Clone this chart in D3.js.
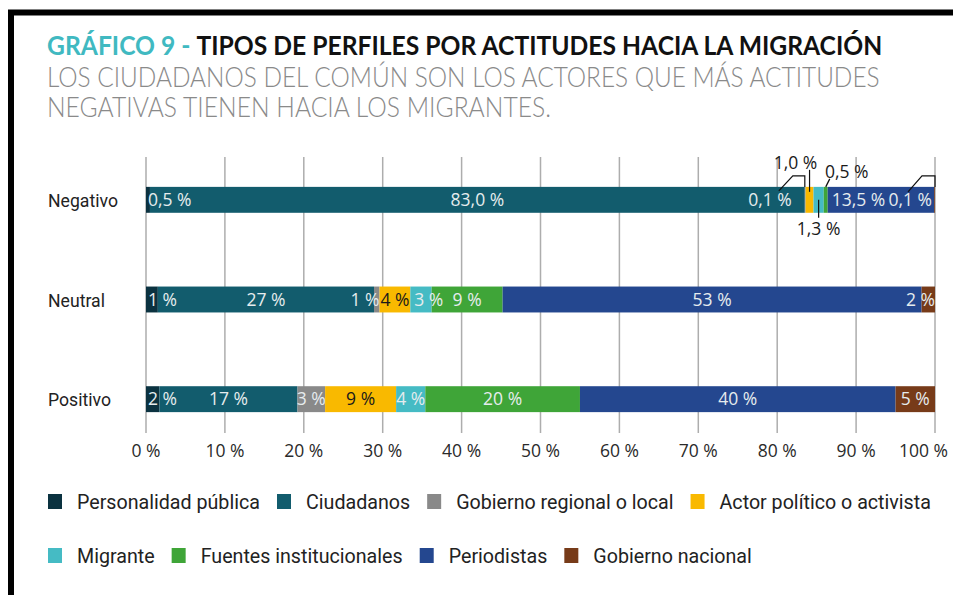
<!DOCTYPE html>
<html>
<head>
<meta charset="utf-8">
<script src="https://cdn.jsdelivr.net/npm/d3@7"></script>
<style>
  body { margin: 0; background: #fff; }
  svg { display: block; }
</style>
</head>
<body>
<svg id="chart" width="953" height="595"></svg>
<script>

// ---- data ----
var categories = ["Negativo", "Neutral", "Positivo"];

var groups = ["Personalidad pública", "Ciudadanos", "Gobierno regional o local",
  "Actor político o activista", "Migrante", "Fuentes institucionales",
  "Periodistas", "Gobierno nacional"];

var groupColors = ["#0b3240", "#125c6d", "#898989", "#f9b900",
  "#45bbc4", "#3fa538", "#24478f", "#773b19"];

var negativo = [0.5, 83.0, 0.1, 1.0, 1.3, 0.5, 13.5, 0.1];
var neutral  = [1.5, 27.4, 0.7, 3.9, 2.7, 9.0, 53.1, 1.7];
var positivo = [1.7, 17.5, 3.5, 9.0, 3.7, 19.6, 40.0, 5.0];

var negativoLabels = ["0,5 %", "83,0 %", "0,1 %", "1,0 %", "1,3 %", "0,5 %", "13,5 %", "0,1 %"];
var neutralLabels  = ["1 %", "27 %", "1 %", "4 %", "3 %", "9 %", "53 %", "2 %"];
var positivoLabels = ["2 %", "17 %", "3 %", "9 %", "4 %", "20 %", "40 %", "5 %"];

var xTicks = [0, 10, 20, 30, 40, 50, 60, 70, 80, 90, 100];
var tickLabels = xTicks.map(function(t) { return t + " %"; });

var titleLead = "GRÁFICO 9 - ";
var titleMain = "TIPOS DE PERFILES POR ACTITUDES HACIA LA MIGRACIÓN";
var subtitle = ["LOS CIUDADANOS DEL COMÚN SON LOS ACTORES QUE MÁS ACTITUDES",
  "NEGATIVAS TIENEN HACIA LOS MIGRANTES."];


var svg = d3.select("#chart");

// squeeze a text (condensed look) to a given width
function fitText(sel, x, y, width) {
  var w = sel.node().getBBox().width;
  sel.attr("transform", "translate(" + x + "," + y + ") scale(" + (width / w) + ",1)");
  return width / w;
}

// ---- frame ----
svg.append("path")
  .attr("d", "M11,595 L11,12.5 L960,12.5")
  .attr("fill", "none")
  .attr("stroke", "#000")
  .attr("stroke-width", 6);

// ---- title ----
var title = svg.append("text")
  .style("font-family", "Lato")
  .style("font-weight", 700)
  .style("font-size", "26px");
title.append("tspan").attr("fill", "#40b9c1").text(titleLead);
title.append("tspan").attr("fill", "#111").text(titleMain);
fitText(title, 47, 55, 835);

subtitle.forEach(function(line, i) {
  var t = svg.append("text")
    .style("font-family", "Lato")
    .style("font-weight", 300)
    .style("font-size", "27px")
    .attr("fill", "#8a8a8a")
    .text(line);
  fitText(t, 47, 87 + i * 30, i == 0 ? 833 : 504);
});

// ---- scales ----
var x = d3.scaleLinear().domain([0, 100]).range([146, 935]);
var y = d3.scaleBand().domain(categories).range([150, 449])
  .paddingInner(0.74).paddingOuter(0.37);

// gridlines
svg.append("g")
  .selectAll("line")
  .data(xTicks)
  .enter()
    .append("line")
    .attr("x1", function(d) { return x(d); })
    .attr("x2", function(d) { return x(d); })
    .attr("y1", 157)
    .attr("y2", 433)
    .attr("stroke", "#adadad")
    .attr("stroke-width", 1.5);

// tick labels
svg.append("g")
  .selectAll("text")
  .data(xTicks)
  .enter()
    .append("text")
    .attr("x", function(d) { return x(d); })
    .attr("y", 457)
    .attr("text-anchor", "middle")
    .style("font-family", "Open Sans")
    .style("font-size", "17.5px")
    .attr("fill", "#2a2a2a")
    .text(function(d, i) { return tickLabels[i]; })
    .each(function() {
      // keep last label inside the frame
      var w = this.getComputedTextLength();
      var cx = +d3.select(this).attr("x");
      if (cx + w / 2 > 948) d3.select(this).attr("x", 948 - w / 2);
    });

// category labels
var catK = null;
categories.forEach(function(c) {
  var t = svg.append("text")
    .style("font-family", "Roboto")
    .style("font-size", "19px")
    .attr("fill", "#222")
    .text(c);
  if (catK == null) catK = 70 / t.node().getBBox().width;
  t.attr("transform", "translate(48," + (y(c) + y.bandwidth() / 2 + 7) + ") scale(" + catK + ",1)");
});

// ---- stacked bars ----
var rows = [negativo, neutral, positivo];
var rowLabels = [negativoLabels, neutralLabels, positivoLabels];

var stacked = rows.map(function(vals, r) {
  var acc = 0;
  return vals.map(function(v, i) {
    var seg = {r: r, i: i, x0: acc, x1: acc + v, label: rowLabels[r][i]};
    acc += v;
    return seg;
  });
});

var segs = d3.merge(stacked);

svg.append("g")
  .selectAll("rect")
  .data(segs)
  .enter()
    .append("rect")
    .attr("x", function(d) { return x(d.x0); })
    .attr("width", function(d) { return x(d.x1) - x(d.x0); })
    .attr("y", function(d) { return y(categories[d.r]); })
    .attr("height", y.bandwidth())
    .attr("fill", function(d) { return groupColors[d.i]; });

// ---- labels ----
var labelG = svg.append("g")
  .style("font-family", "Open Sans")
  .style("font-size", "17.5px");

function labelColor(i) {
  return i == 3 ? "#1a1a1a" : "#e6ecee";
}

// negative row: small segments are called out with leader lines
var callouts = {2: "leftHook", 3: "above", 4: "below", 5: "aboveRight", 6: "inlineStart", 7: "rightHook"};

segs.forEach(function(d) {
  var a = x(d.x0), b = x(d.x1);
  var yc = y(categories[d.r]) + y.bandwidth() / 2;
  var top = y(categories[d.r]);
  var t = labelG.append("text").text(d.label).attr("dy", "0.35em");
  var w = t.node().getComputedTextLength();
  var kind = d.r == 0 ? callouts[d.i] : null;

  if (!kind) {
    t.attr("y", yc).attr("fill", labelColor(d.i));
    if (b - a >= w - 2) {
      t.attr("x", (a + b) / 2).attr("text-anchor", "middle");
    } else if (d.i == 0) {
      t.attr("x", a + 2).attr("text-anchor", "start");
    } else if (d.i == groups.length - 1 || b - a < 10) {
      t.attr("x", b).attr("text-anchor", "end");
    } else {
      t.attr("x", a + 4).attr("text-anchor", "start");
    }
    return;
  }

  var mid = (a + b) / 2;
  var lead = null;
  t.attr("fill", "#1a1a1a");

  if (kind == "inlineStart") {
    t.attr("x", a + 4).attr("y", yc).attr("fill", labelColor(d.i));
  } else if (kind == "leftHook") {
    t.attr("x", a - 13).attr("y", yc).attr("text-anchor", "end").attr("fill", labelColor(d.i));
    lead = [[a - 26, yc - 9], [a - 12, yc - 24], [a, yc - 24], [a, top]];
  } else if (kind == "rightHook") {
    t.attr("x", b - 3).attr("y", yc).attr("text-anchor", "end").attr("fill", labelColor(1));
    lead = [[b - 27, yc - 8], [b - 13, yc - 24], [b, yc - 24], [b, top]];
  } else if (kind == "above") {
    t.attr("x", mid - 14).attr("y", yc - 37).attr("text-anchor", "middle");
    lead = [[mid, yc - 30], [mid, yc - 8]];
  } else if (kind == "below") {
    t.attr("x", mid).attr("y", yc + 29).attr("text-anchor", "middle");
    lead = [[mid, yc], [mid, yc + 18]];
  } else if (kind == "aboveRight") {
    t.attr("x", a + 23).attr("y", yc - 28).attr("text-anchor", "middle");
    lead = [[a + 2, top], [a + 6, top - 8]];
  }

  if (lead) {
    svg.append("path")
      .attr("d", d3.line()(lead))
      .attr("fill", "none")
      .attr("stroke", "#111")
      .attr("stroke-width", 1.2);
  }
});

// ---- legend ----
var legendRows = [[0, 1, 2, 3], [4, 5, 6, 7]];
var legK = null;

legendRows.forEach(function(row, r) {
  var lx = 48;
  var ly = 494 + r * 54;
  row.forEach(function(i) {
    svg.append("rect")
      .attr("x", lx)
      .attr("y", ly)
      .attr("width", 14)
      .attr("height", 15)
      .attr("fill", groupColors[i]);
    var t = svg.append("text")
      .style("font-family", "Roboto")
      .style("font-size", "21px")
      .attr("fill", "#222")
      .text(groups[i]);
    var w = t.node().getBBox().width;
    if (legK == null) legK = 183 / w;
    t.attr("transform", "translate(" + (lx + 29) + "," + (ly + 15) + ") scale(" + legK + ",1)");
    lx = lx + 29 + w * legK + 17;
  });
});

</script>
</body>
</html>
